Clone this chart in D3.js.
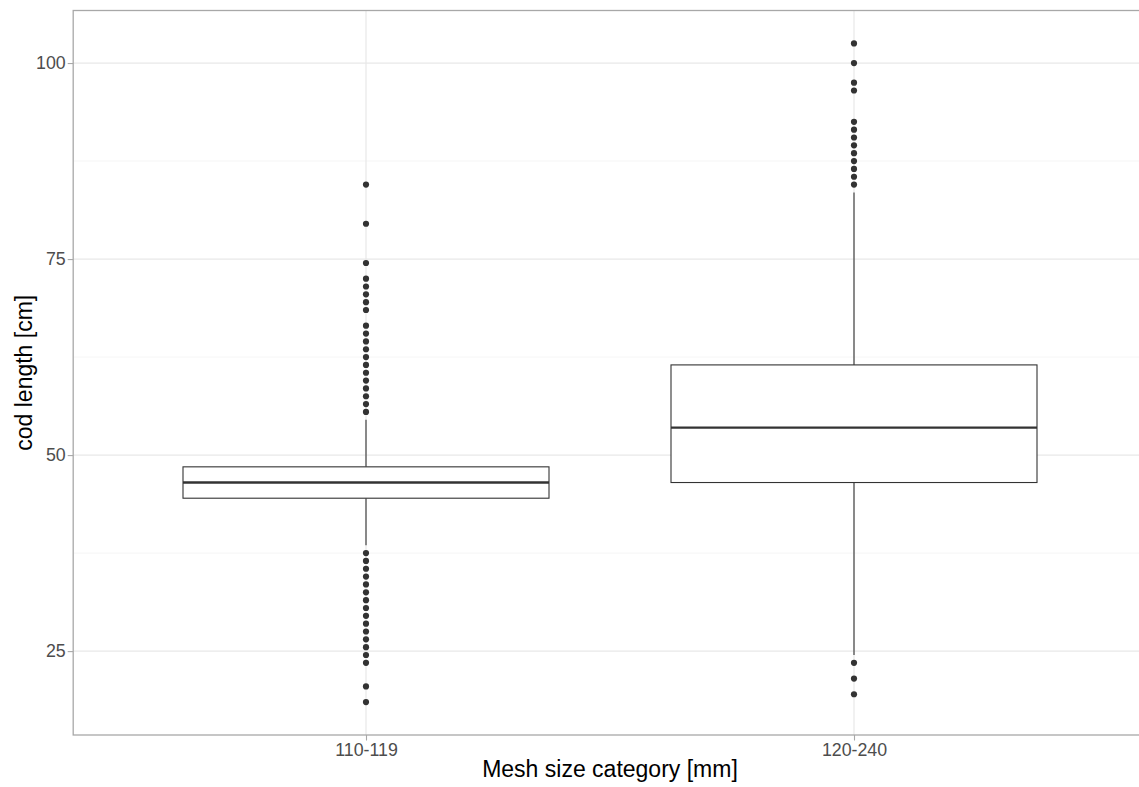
<!DOCTYPE html>
<html>
<head>
<meta charset="utf-8">
<script src="https://cdn.jsdelivr.net/npm/d3@7"></script>
<style>
  html, body { margin: 0; padding: 0; background: #fff; }
  svg { display: block; font-family: "Liberation Sans", Arial, sans-serif; }
</style>
</head>
<body>
<svg id="chart" width="1139" height="787"></svg>
<script>
// Cod length by mesh size category: box summaries and outlying fish
const categories = ["110-119", "120-240"];
const lowerWhisker = [38.5, 24.5];
const q1 = [44.5, 46.5];
const median = [46.5, 53.5];
const q3 = [48.5, 61.5];
const upperWhisker = [54.5, 83.5];
const outliers110 = [84.5, 79.5, 74.5, 72.5, 71.5, 70.5, 69.5, 68.5, 66.5, 65.5, 64.5, 63.5,
  62.5, 61.5, 60.5, 59.5, 58.5, 57.5, 56.5, 55.5,
  37.5, 36.5, 35.5, 34.5, 33.5, 32.5, 31.5, 30.5, 29.5, 28.5, 27.5, 26.5, 25.5, 24.5, 23.5,
  20.5, 18.5];
const outliers120 = [102.5, 100, 97.5, 96.5, 92.5, 91.5, 90.5, 89.5, 88.5, 87.5, 86.5, 85.5, 84.5,
  23.5, 21.5, 19.5];
const outliers = [outliers110, outliers120];
const yTicks = [25, 50, 75, 100];
const yMinorTicks = [37.5, 62.5, 87.5];
const xTitle = "Mesh size category [mm]";
const yTitle = "cod length [cm]";

const svg = d3.select("#chart");
const panel = { left: 73.2, right: 1146.8, top: 10.5, bottom: 735 };

// continuous y with 5% expansion around the data range
const allVals = [...lowerWhisker, ...upperWhisker, ...outliers110, ...outliers120];
const lo = d3.min(allVals), hi = d3.max(allVals);
const pad = (hi - lo) * 0.05;
const y = d3.scaleLinear().domain([lo - pad, hi + pad]).range([panel.bottom, panel.top]);
const x = d3.scalePoint().domain(categories).range([panel.left, panel.right]).padding(0.6);
const boxW = x.step() * 0.75;

svg.append("defs").append("clipPath").attr("id", "panelClip")
  .append("rect")
  .attr("x", panel.left).attr("y", panel.top)
  .attr("width", panel.right - panel.left).attr("height", panel.bottom - panel.top);

const g = svg.append("g").attr("clip-path", "url(#panelClip)");

// grid
g.selectAll(".minor").data(yMinorTicks).join("line")
  .attr("x1", panel.left).attr("x2", panel.right)
  .attr("y1", d => y(d)).attr("y2", d => y(d))
  .attr("stroke", "#f3f3f3").attr("stroke-width", 0.8);
g.selectAll(".majorY").data(yTicks).join("line")
  .attr("x1", panel.left).attr("x2", panel.right)
  .attr("y1", d => y(d)).attr("y2", d => y(d))
  .attr("stroke", "#e8e8e8").attr("stroke-width", 1.2);
g.selectAll(".majorX").data(categories).join("line")
  .attr("y1", panel.top).attr("y2", panel.bottom)
  .attr("x1", d => x(d)).attr("x2", d => x(d))
  .attr("stroke", "#e8e8e8").attr("stroke-width", 1.2);

const stroke = "#333333";
const boxes = g.selectAll(".box").data(categories).join("g");

// whiskers
boxes.append("line")
  .attr("x1", d => x(d)).attr("x2", d => x(d))
  .attr("y1", (d, i) => y(q3[i])).attr("y2", (d, i) => y(upperWhisker[i]))
  .attr("stroke", stroke).attr("stroke-width", 1.1);
boxes.append("line")
  .attr("x1", d => x(d)).attr("x2", d => x(d))
  .attr("y1", (d, i) => y(q1[i])).attr("y2", (d, i) => y(lowerWhisker[i]))
  .attr("stroke", stroke).attr("stroke-width", 1.1);

// boxes
boxes.append("rect")
  .attr("x", d => x(d) - boxW / 2).attr("width", boxW)
  .attr("y", (d, i) => y(q3[i])).attr("height", (d, i) => y(q1[i]) - y(q3[i]))
  .attr("fill", "#fff").attr("stroke", stroke).attr("stroke-width", 1.1);

// medians
boxes.append("line")
  .attr("x1", d => x(d) - boxW / 2).attr("x2", d => x(d) + boxW / 2)
  .attr("y1", (d, i) => y(median[i])).attr("y2", (d, i) => y(median[i]))
  .attr("stroke", stroke).attr("stroke-width", 2.3);

// outlying points
boxes.each(function (d, i) {
  d3.select(this).selectAll("circle").data(outliers[i]).join("circle")
    .attr("cx", x(d)).attr("cy", v => y(v)).attr("r", 3.1)
    .attr("fill", stroke);
});

// panel border
svg.append("rect")
  .attr("x", panel.left).attr("y", panel.top)
  .attr("width", panel.right - panel.left).attr("height", panel.bottom - panel.top)
  .attr("fill", "none").attr("stroke", "#a8a8a8").attr("stroke-width", 1.3);

// axes
const yAxis = svg.append("g").attr("transform", `translate(${panel.left},0)`)
  .call(d3.axisLeft(y).tickValues(yTicks).tickSize(5.5).tickPadding(2));
const xAxis = svg.append("g").attr("transform", `translate(0,${panel.bottom})`)
  .call(d3.axisBottom(x).tickSize(5.5).tickPadding(3));
[yAxis, xAxis].forEach(a => {
  a.select(".domain").remove();
  a.selectAll(".tick line").attr("stroke", "#a8a8a8").attr("stroke-width", 1.1);
  a.selectAll(".tick text").attr("fill", "#4d4d4d")
    .style("font-size", "17.8px").style("font-family", "Liberation Sans, Arial, sans-serif");
});

// titles
svg.append("text")
  .attr("x", (panel.left + panel.right) / 2).attr("y", 777)
  .attr("text-anchor", "middle").attr("fill", "#000")
  .style("font-size", "23px").text(xTitle);
svg.append("text")
  .attr("transform", `translate(32,${(panel.top + panel.bottom) / 2}) rotate(-90)`)
  .attr("text-anchor", "middle").attr("fill", "#000")
  .style("font-size", "23px").text(yTitle);
</script>
</body>
</html>
